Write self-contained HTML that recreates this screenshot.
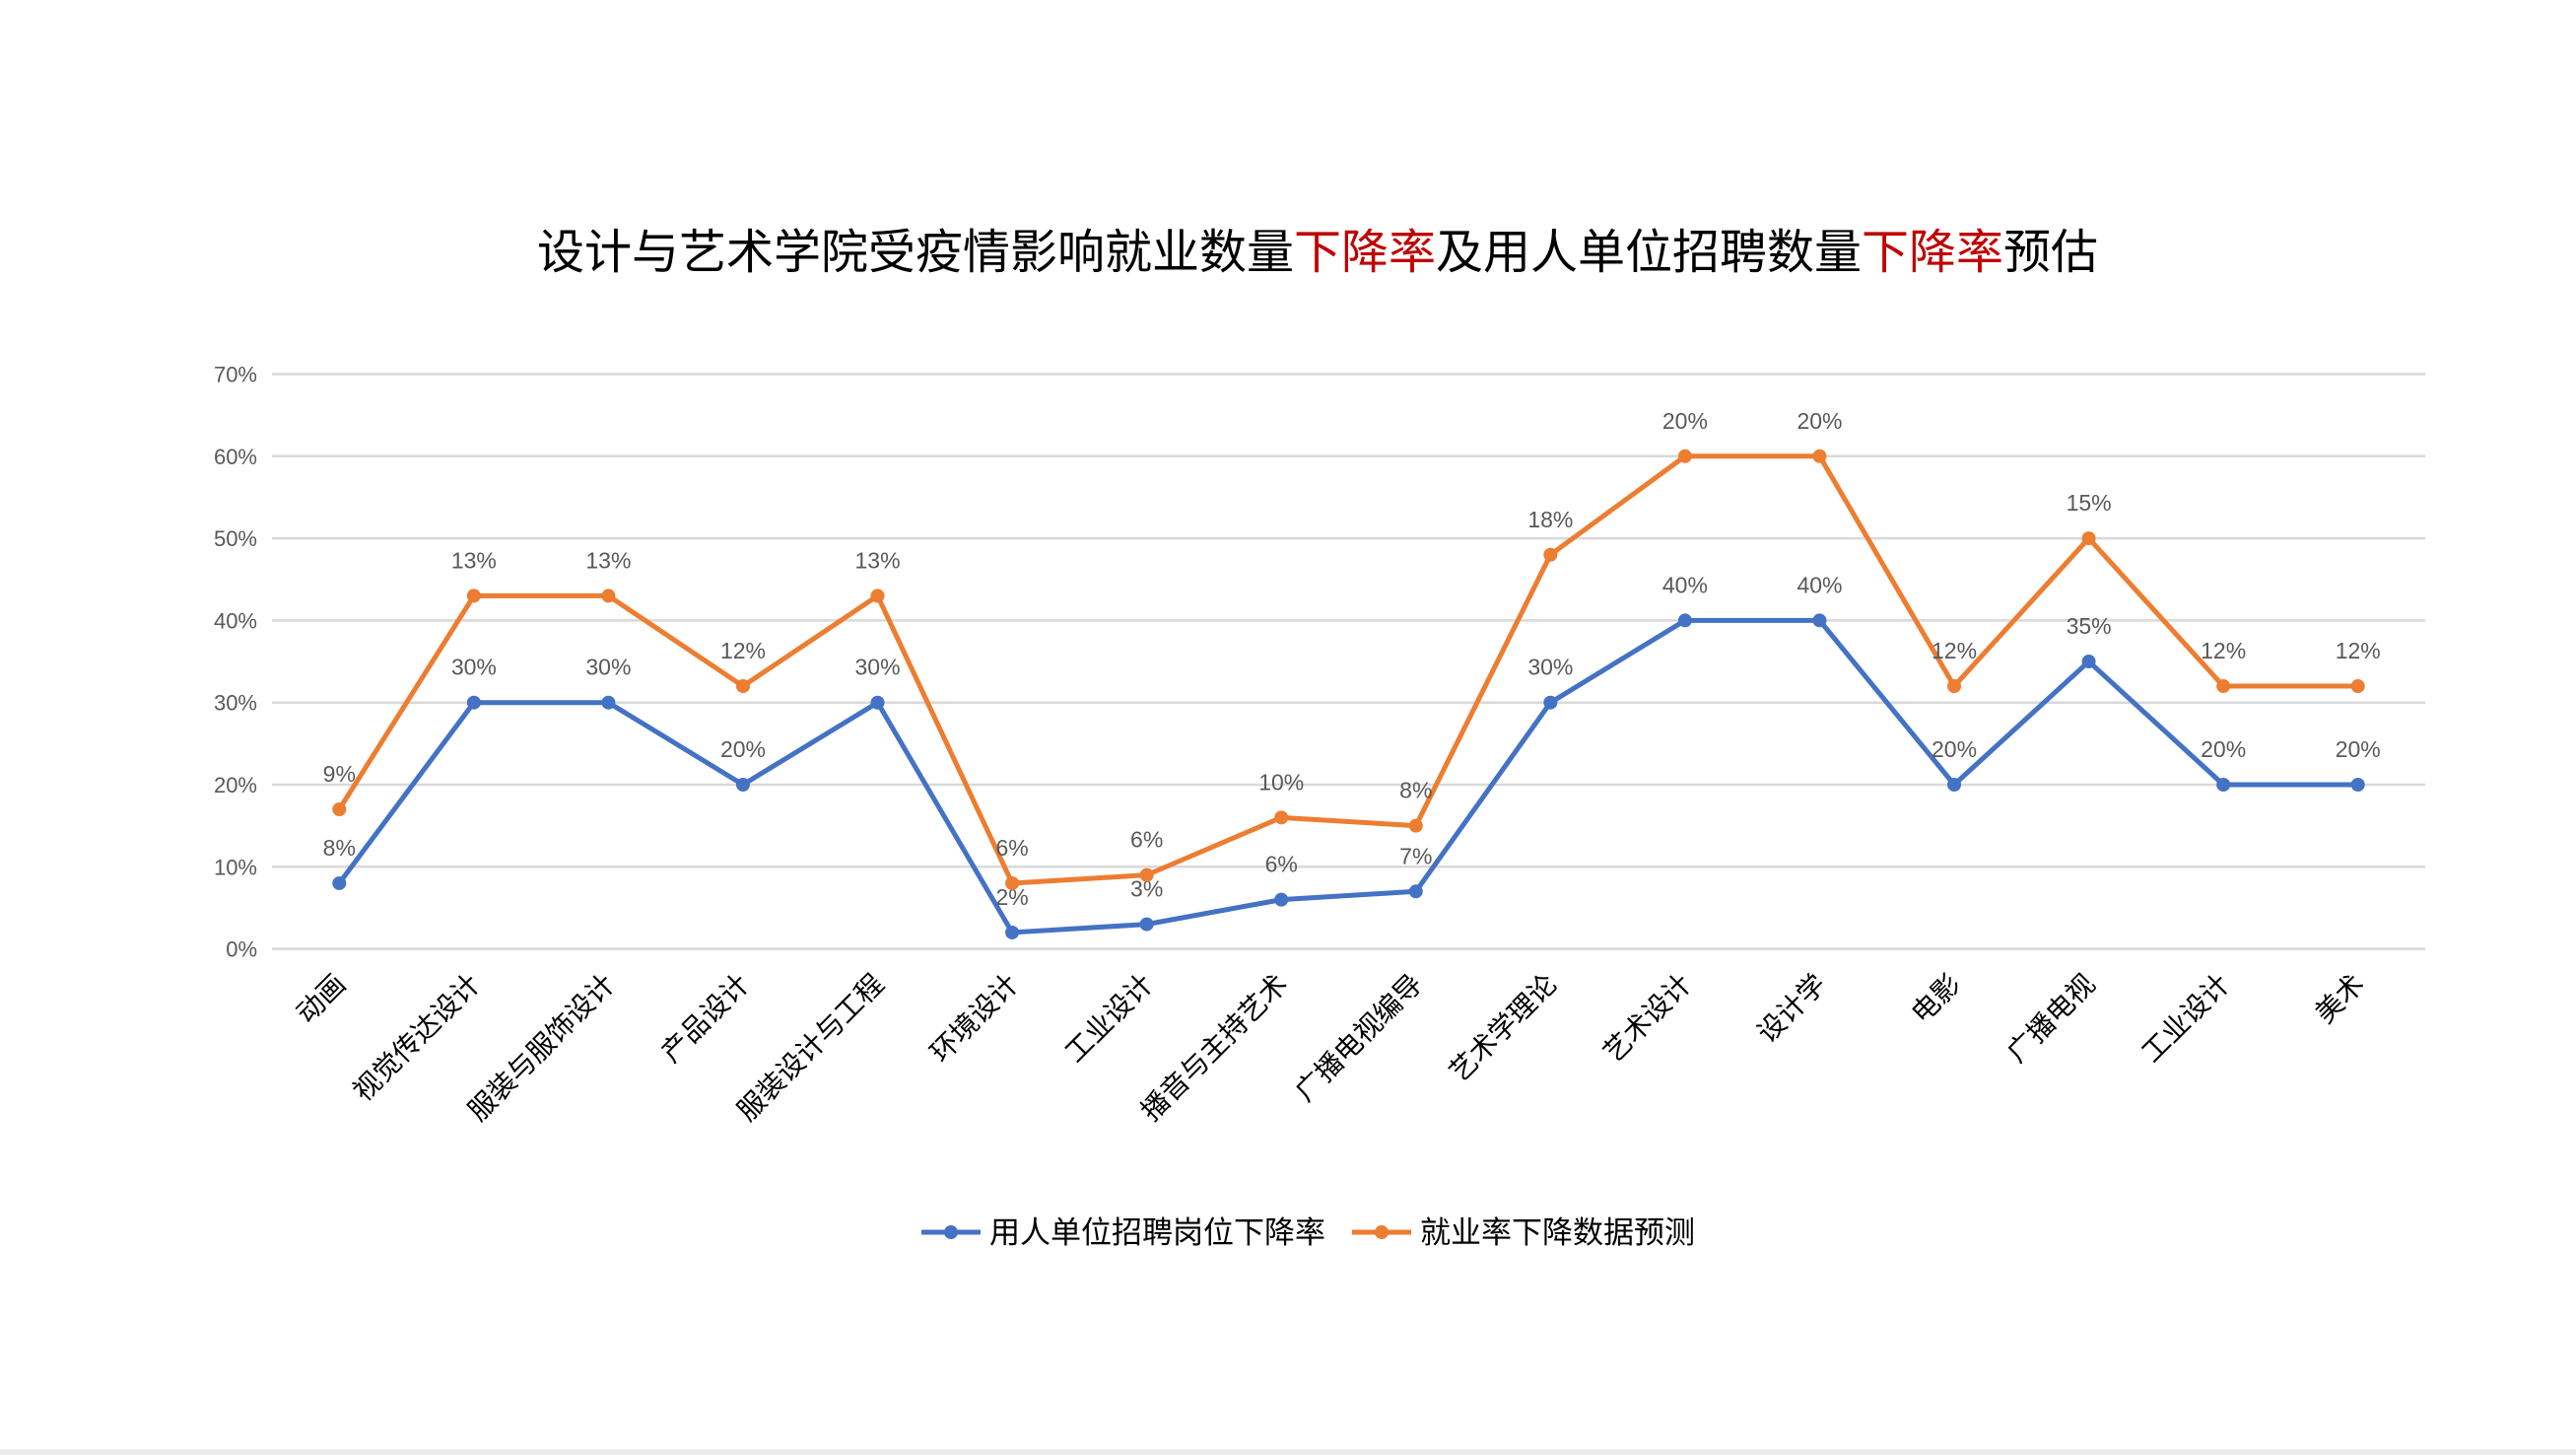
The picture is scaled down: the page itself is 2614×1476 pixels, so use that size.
<!DOCTYPE html>
<html><head><meta charset="utf-8"><style>
html,body{margin:0;padding:0;background:#fff;}
svg{display:block;font-family:"Liberation Sans","Noto Sans CJK SC",sans-serif;}
</style></head><body>
<svg id="chart" width="2614" height="1476" viewBox="0 0 2614 1476">
<rect x="0" y="1470" width="2614" height="6" fill="#ececec"/>
<text x="1337" y="272" text-anchor="middle" font-size="48" fill="#000">设计与艺术学院受疫情影响就业数量<tspan fill="#c00000">下降率</tspan>及用人单位招聘数量<tspan fill="#c00000">下降率</tspan>预估</text>
<g id="grid"></g><g id="xlabels"></g><g id="series"></g>
<g>
<line x1="935" y1="1250" x2="995" y2="1250" stroke="#4472C4" stroke-width="5"/>
<circle cx="965" cy="1250" r="7" fill="#4472C4"/>
<text x="1004" y="1261" font-size="31" fill="#000">用人单位招聘岗位下降率</text>
<line x1="1372" y1="1250" x2="1432" y2="1250" stroke="#ED7D31" stroke-width="5"/>
<circle cx="1402" cy="1250" r="7" fill="#ED7D31"/>
<text x="1441" y="1261" font-size="31" fill="#000">就业率下降数据预测</text>
</g>
</svg>
<script>
const categories=["动画","视觉传达设计","服装与服饰设计","产品设计","服装设计与工程","环境设计","工业设计","播音与主持艺术","广播电视编导","艺术学理论","艺术设计","设计学","电影","广播电视","工业设计","美术"];
const blueValues=[8,30,30,20,30,2,3,6,7,30,40,40,20,35,20,20];
const orangeValues=[17,43,43,32,43,8,9,16,15,48,60,60,32,50,32,32];
const blueLabels=["8%","30%","30%","20%","30%","2%","3%","6%","7%","30%","40%","40%","20%","35%","20%","20%"];
const orangeLabels=["9%","13%","13%","12%","13%","6%","6%","10%","8%","18%","20%","20%","12%","15%","12%","12%"];
const yTicks=[0,10,20,30,40,50,60,70];
const NS="http://www.w3.org/2000/svg";
const L=276,R=2461,T=379.5,B=962.6,YMAX=70;
const band=(R-L)/categories.length;
function xs(i){return L+band*(i+0.5);}
function ys(v){return B-(v/YMAX)*(B-T);}
function mk(tag,attrs,parent){const e=document.createElementNS(NS,tag);for(const k in attrs)e.setAttribute(k,attrs[k]);parent.appendChild(e);return e;}
const grid=document.getElementById('grid');
yTicks.forEach(t=>{
  const ln=mk('line',{x1:L,x2:R,y1:ys(t),y2:ys(t),stroke:'#d9d9d9','stroke-width':2.5},grid);
  
  
  const tx=mk('text',{x:261,y:ys(t)+8,'text-anchor':'end','font-size':22,fill:'#595959'},grid);
  tx.textContent=t+'%';
  
  
});
const xl=document.getElementById('xlabels');
categories.forEach((c,i)=>{
  const x=xs(i)+8,y=1000;
  const tx=mk('text',{x:x,y:y,'text-anchor':'end','font-size':28,fill:'#000',transform:`rotate(-45 ${x} ${y})`},xl);
  tx.textContent=c;
  
  
});
const sg=document.getElementById('series');
function drawSeries(vals,labels,color,name){
  const g=mk('g',{},sg);
  
  
  const pl=mk('polyline',{points:vals.map((v,i)=>xs(i)+','+ys(v)).join(' '),fill:'none',stroke:color,'stroke-width':5,'stroke-linejoin':'round'},g);
  
  
  vals.forEach((v,i)=>{
    const c=mk('circle',{cx:xs(i),cy:ys(v),r:7,fill:color},g);
    
    
    const t=mk('text',{x:xs(i),y:ys(v)-28,'text-anchor':'middle','font-size':23,fill:'#595959'},g);
    t.textContent=labels[i];
    
    
  });
}
drawSeries(blueValues,blueLabels,'#4472C4','blue');
drawSeries(orangeValues,orangeLabels,'#ED7D31','orange');
</script>
</body></html>
